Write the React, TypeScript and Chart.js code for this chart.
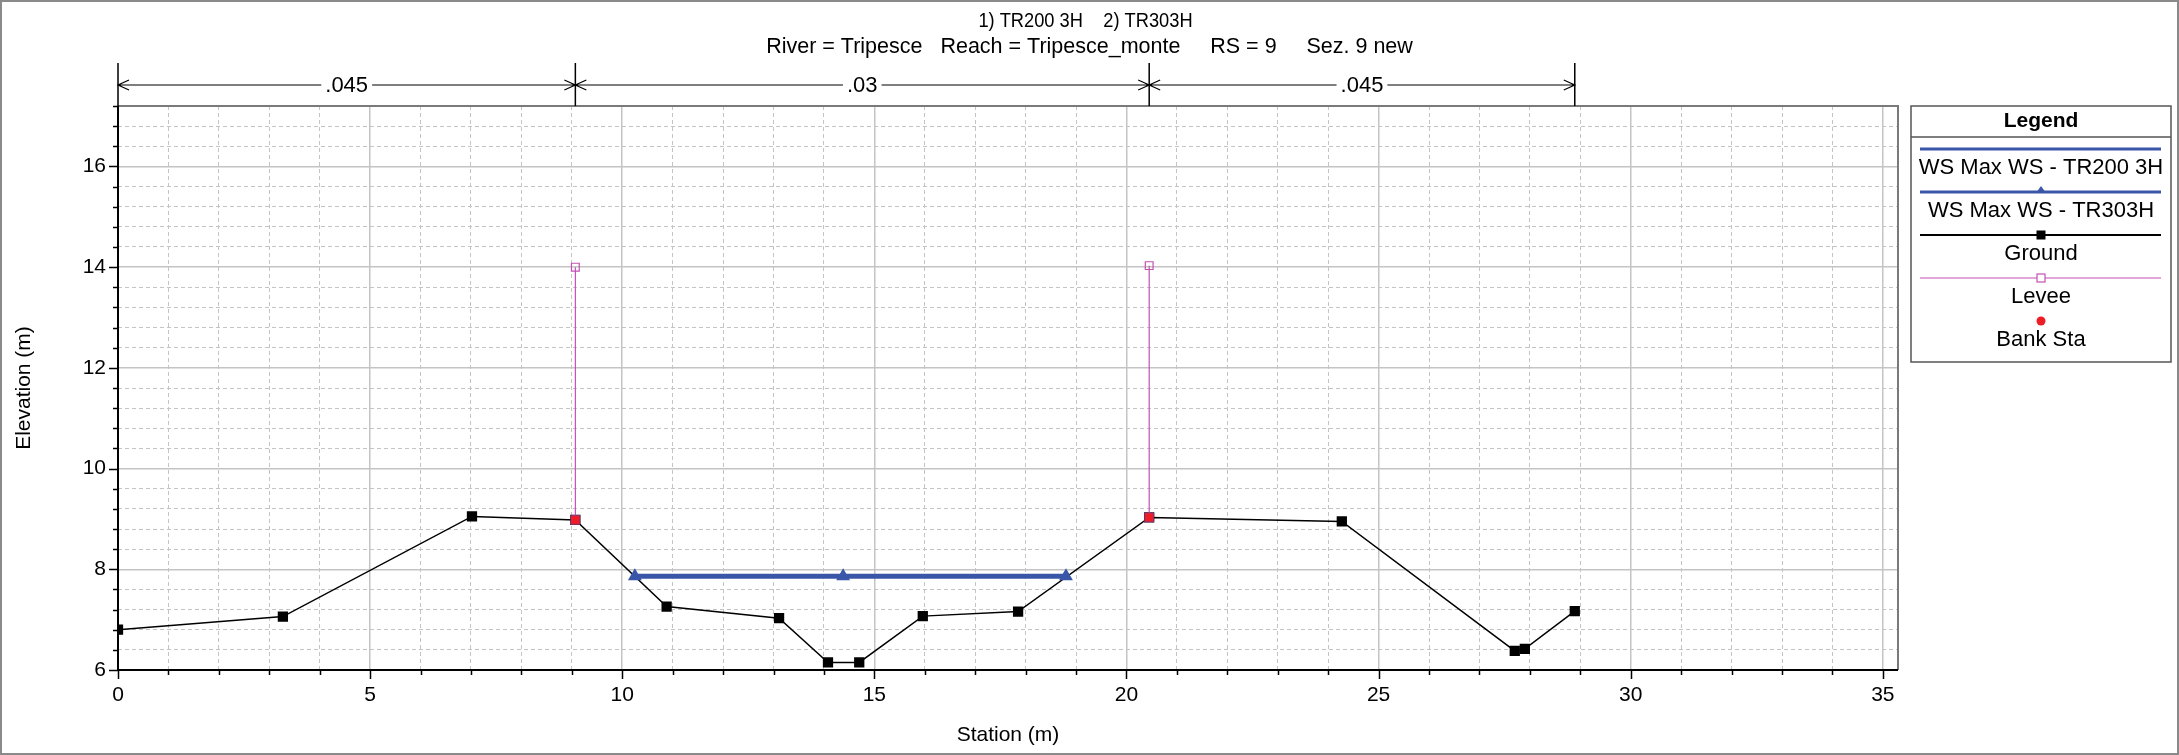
import React, { useEffect, useRef } from "react";
import { Chart, registerables } from "chart.js";
Chart.register(...registerables);

// ---- data ----
const titleLines = [
  "1) TR200 3H    2) TR303H",
  "River = Tripesce   Reach = Tripesce_monte     RS = 9     Sez. 9 new",
];
const groundStations = [0, 3.27, 7.02, 9.07, 10.88, 13.11, 14.08, 14.7, 15.96, 17.85, 20.45, 24.27, 27.7, 27.9, 28.89];
const groundElev = [6.8, 7.06, 9.05, 8.98, 7.26, 7.03, 6.15, 6.15, 7.07, 7.16, 9.03, 8.95, 6.38, 6.42, 7.17];
const wsTR200Stations = [10.25, 18.8];
const wsTR200Elev = [7.86, 7.86];
const wsTR303Stations = [10.25, 14.38, 18.8];
const wsTR303Elev = [7.86, 7.86, 7.86];
const leveeStations = [9.07, 20.45];
const leveeBaseElev = [8.98, 9.03];
const leveeTopElev = [14.0, 14.03];
const bankStations = [9.07, 20.45];
const bankElev = [8.98, 9.03];
const nBreakStations = [0, 9.07, 20.45, 28.89];
const nValues = [".045", ".03", ".045"];
const seriesLabels = ["WS Max WS - TR200 3H", "WS Max WS - TR303H", "Ground", "Levee", "Bank Sta"];
const xTitle = "Station (m)";
const yTitle = "Elevation (m)";
const xMin = 0, xMax = 35.3, xStep = 1, xMajor = 5;
const yMin = 6, yMax = 17.2, yStep = 0.4, yMajor = 2;

const BLUE = "#3a56a8";
const MAGENTA = "#c450b4";
const RED = "#ee1c24";
const FONT = "'Liberation Sans', Arial, sans-serif";

const xTickVals: number[] = [];
for (let v = xMin; v <= xMax + 1e-9; v += xStep) xTickVals.push(Math.round(v * 1000) / 1000);
const yTickVals: number[] = [];
for (let k = 0; yMin + k * yStep <= yMax + 1e-9; k++) yTickVals.push(Math.round((yMin + k * yStep) * 1000) / 1000);
const isMult = (v: number, m: number) => Math.abs(v / m - Math.round(v / m)) < 1e-6;

const pts = (xs: number[], ys: number[]) => xs.map((x, i) => ({ x, y: ys[i] }));

const leveeData: any[] = [];
leveeStations.forEach((s, i) => {
  if (i > 0) leveeData.push({ x: s, y: null });
  leveeData.push({ x: s, y: leveeBaseElev[i] });
  leveeData.push({ x: s, y: leveeTopElev[i] });
});

const overlay = {
  id: "overlay",
  afterDraw(chart: any) {
    const { ctx, chartArea: a, scales } = chart;
    const x = scales.x, y = scales.y;
    ctx.save();
    // outer frame
    ctx.strokeStyle = "#8a8a8a";
    ctx.lineWidth = 2;
    ctx.strokeRect(1, 1, chart.width - 2, chart.height - 2);

    // plot frame
    ctx.strokeStyle = "#7a7a7a";
    ctx.lineWidth = 2;
    ctx.beginPath();
    ctx.moveTo(a.left, a.top); ctx.lineTo(a.right, a.top); ctx.lineTo(a.right, a.bottom);
    ctx.stroke();
    ctx.strokeStyle = "#000";
    ctx.beginPath();
    ctx.moveTo(a.left, a.top); ctx.lineTo(a.left, a.bottom); ctx.lineTo(a.right, a.bottom);
    ctx.stroke();

    // ticks
    ctx.lineWidth = 1.5;
    ctx.strokeStyle = "#000";
    ctx.beginPath();
    xTickVals.forEach((v) => {
      const px = Math.round(x.getPixelForValue(v)) + 0.5;
      const len = isMult(v, xMajor) ? 9 : 5;
      ctx.moveTo(px, a.bottom); ctx.lineTo(px, a.bottom + len);
    });
    yTickVals.forEach((v) => {
      const py = Math.round(y.getPixelForValue(v)) + 0.5;
      const len = isMult(v, yMajor) ? 9 : 5;
      ctx.moveTo(a.left - len, py); ctx.lineTo(a.left, py);
    });
    ctx.stroke();

    // titles
    ctx.fillStyle = "#000";
    ctx.textAlign = "center";
    ctx.textBaseline = "middle";
    ctx.save();
    ctx.translate(chart.width / 2 - 4, 21);
    ctx.scale(0.87, 1);
    ctx.font = `21px ${FONT}`;
    ctx.fillText(titleLines[0], 0, 0);
    ctx.restore();
    ctx.font = `21.5px ${FONT}`;
    ctx.fillText(titleLines[1], chart.width / 2, 47);

    // axis titles
    ctx.font = `21px ${FONT}`;
    ctx.fillText(xTitle, (a.left + a.right) / 2, 735);
    ctx.save();
    ctx.translate(24, (a.top + a.bottom) / 2);
    ctx.rotate(-Math.PI / 2);
    ctx.fillText(yTitle, 0, 0);
    ctx.restore();

    // Manning's n annotation
    const ly = 85;
    ctx.strokeStyle = "#000";
    ctx.lineWidth = 1.5;
    const bx = nBreakStations.map((s) => x.getPixelForValue(s));
    ctx.beginPath();
    bx.forEach((p) => { ctx.moveTo(p, 63); ctx.lineTo(p, a.top); });
    ctx.stroke();
    ctx.font = `22px ${FONT}`;
    ctx.lineWidth = 1.2;
    for (let i = 0; i < nValues.length; i++) {
      const x0 = bx[i], x1 = bx[i + 1];
      const cx = (x0 + x1) / 2;
      const tw = ctx.measureText(nValues[i]).width;
      ctx.beginPath();
      ctx.moveTo(x0, ly); ctx.lineTo(cx - tw / 2 - 4, ly);
      ctx.moveTo(cx + tw / 2 + 4, ly); ctx.lineTo(x1, ly);
      // arrows
      ctx.moveTo(x0 + 11, ly - 5); ctx.lineTo(x0, ly); ctx.lineTo(x0 + 11, ly + 5);
      ctx.moveTo(x1 - 11, ly - 5); ctx.lineTo(x1, ly); ctx.lineTo(x1 - 11, ly + 5);
      ctx.stroke();
      ctx.fillText(nValues[i], cx, ly + 1);
    }

    // legend
    const L = 1911, R = 2171, T = 106, B = 362;
    ctx.fillStyle = "#fff";
    ctx.fillRect(L, T, R - L, B - T);
    ctx.strokeStyle = "#555";
    ctx.lineWidth = 1.5;
    ctx.strokeRect(L, T, R - L, B - T);
    ctx.beginPath(); ctx.moveTo(L, 137); ctx.lineTo(R, 137); ctx.stroke();
    ctx.fillStyle = "#000";
    ctx.font = `bold 21px ${FONT}`;
    ctx.fillText("Legend", (L + R) / 2, 121);
    const lx0 = 1920, lx1 = 2161, lcx = (L + R) / 2;
    const items = [
      { color: BLUE, width: 3, marker: "none" },
      { color: BLUE, width: 3, marker: "triangle" },
      { color: "#000", width: 2, marker: "square" },
      { color: MAGENTA, width: 1.2, marker: "open" },
      { color: RED, width: 0, marker: "circle" },
    ];
    items.forEach((it, i) => {
      const yl = 149 + i * 43;
      if (it.width > 0) {
        ctx.strokeStyle = it.color;
        ctx.lineWidth = it.width;
        ctx.beginPath(); ctx.moveTo(lx0, yl); ctx.lineTo(lx1, yl); ctx.stroke();
      }
      ctx.fillStyle = it.color;
      ctx.strokeStyle = it.color;
      if (it.marker === "triangle") {
        ctx.beginPath(); ctx.moveTo(lcx, yl - 6); ctx.lineTo(lcx - 5, yl + 1); ctx.lineTo(lcx + 5, yl + 1); ctx.closePath(); ctx.fill();
      } else if (it.marker === "square") {
        ctx.fillRect(lcx - 4.5, yl - 4.5, 9, 9);
      } else if (it.marker === "open") {
        ctx.fillStyle = "#fff";
        ctx.fillRect(lcx - 4, yl - 4, 8, 8);
        ctx.lineWidth = 1.2;
        ctx.strokeRect(lcx - 4, yl - 4, 8, 8);
      } else if (it.marker === "circle") {
        ctx.beginPath(); ctx.arc(lcx, yl, 4.5, 0, Math.PI * 2); ctx.fill();
      }
      ctx.fillStyle = "#000";
      ctx.font = `22px ${FONT}`;
      ctx.fillText(seriesLabels[i], lcx, yl + 19);
    });
    ctx.restore();
  },
};

export default function App() {
  const ref = useRef<HTMLCanvasElement>(null);
  useEffect(() => {
    document.body.style.margin = "0";
    const canvas = ref.current!;
    const gridColor = "#c4c4c4";
    const chart = new Chart(canvas, {
      type: "scatter",
      data: {
        datasets: [
          {
            label: seriesLabels[4],
            data: pts(bankStations, bankElev),
            showLine: false,
            pointStyle: "rect",
            pointRadius: 6.3,
            backgroundColor: RED,
            borderColor: "#9a3a8a",
            borderWidth: 0.8,
          },
          {
            label: seriesLabels[3],
            data: leveeData,
            showLine: true,
            spanGaps: false,
            borderColor: MAGENTA,
            borderWidth: 1.2,
            pointStyle: "rect",
            pointRadius: (c: any) => (c.dataIndex % 3 === 1 ? 5.5 : 0),
            pointBackgroundColor: "rgba(255,255,255,0)",
            pointBorderColor: MAGENTA,
            pointBorderWidth: 1.2,
          },
          {
            label: seriesLabels[1],
            data: pts(wsTR303Stations, wsTR303Elev),
            showLine: true,
            borderColor: BLUE,
            borderWidth: 3,
            pointStyle: "triangle",
            pointRadius: 5,
            backgroundColor: BLUE,
            pointBorderColor: BLUE,
          },
          {
            label: seriesLabels[0],
            data: pts(wsTR200Stations, wsTR200Elev),
            showLine: true,
            borderColor: BLUE,
            borderWidth: 5,
            pointRadius: 0,
          },
          {
            label: seriesLabels[2],
            data: pts(groundStations, groundElev),
            showLine: true,
            borderColor: "#000",
            borderWidth: 1.5,
            pointStyle: "rect",
            pointRadius: 6.2,
            backgroundColor: "#000",
            pointBorderColor: "#000",
          },
        ],
      },
      options: {
        responsive: false,
        devicePixelRatio: 1,
        animation: false,
        layout: { padding: { top: 106, right: 281, left: 0, bottom: 0 } },
        plugins: { legend: { display: false }, tooltip: { enabled: false }, title: { display: false } },
        elements: { line: { tension: 0 } },
        scales: {
          x: {
            type: "linear",
            min: xMin,
            max: xMax,
            afterBuildTicks: (s: any) => { s.ticks = xTickVals.map((v) => ({ value: v })); },
            afterFit: (s: any) => { s.height = 85; },
            ticks: {
              autoSkip: false,
              maxRotation: 0,
              padding: 4,
              color: "#000",
              font: { family: FONT, size: 21 },
              callback: (v: any) => (isMult(Number(v), xMajor) ? String(Math.round(Number(v))) : ""),
            },
            grid: {
              color: gridColor,
              lineWidth: (c: any) => (c.tick && isMult(c.tick.value, xMajor) ? 1.5 : 1),
              tickLength: 9,
              tickColor: "rgba(0,0,0,0)",
            },
            border: {
              display: false,
              dash: (c: any) => (c.tick && !isMult(c.tick.value, xMajor) ? [4, 3] : []),
            },
          },
          y: {
            type: "linear",
            min: yMin,
            max: yMax,
            afterBuildTicks: (s: any) => { s.ticks = yTickVals.map((v) => ({ value: v })); },
            afterFit: (s: any) => { s.width = 118; },
            ticks: {
              autoSkip: false,
              padding: 3,
              color: "#000",
              font: { family: FONT, size: 21 },
              callback: (v: any) => (isMult(Number(v), yMajor) ? String(Math.round(Number(v))) : ""),
            },
            grid: {
              color: gridColor,
              lineWidth: (c: any) => (c.tick && isMult(c.tick.value, yMajor) ? 1.5 : 1),
              tickLength: 9,
              tickColor: "rgba(0,0,0,0)",
            },
            border: {
              display: false,
              dash: (c: any) => (c.tick && !isMult(c.tick.value, yMajor) ? [4, 3] : []),
            },
          },
        },
      } as any,
      plugins: [overlay],
    });
    return () => chart.destroy();
  }, []);
  return (
    <div style={{ width: 2179, height: 755 }}>
      <canvas ref={ref} width={2179} height={755} style={{ display: "block", width: 2179, height: 755 }} />
    </div>
  );
}
